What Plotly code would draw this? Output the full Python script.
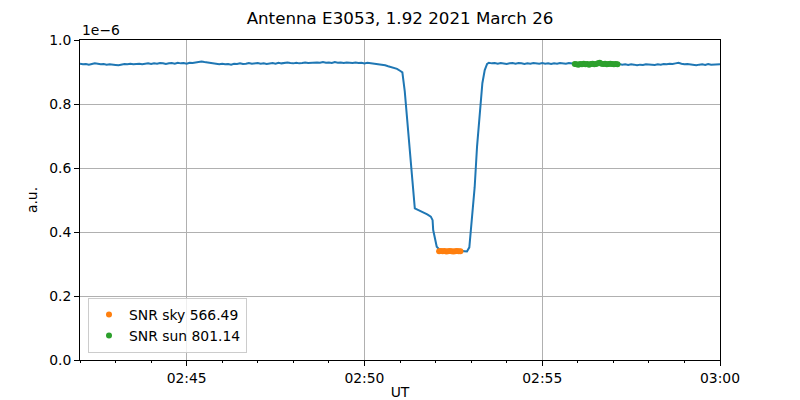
import pandas as pd
import plotly.graph_objects as go

# ---- data (seconds after 02:42:00 UT, values in units of 1e-6) ----
base_time = "2021-03-26 02:42:00"

pre_t = list(range(0, 545, 5)) + [544]
pre_v = [0.926, 0.924, 0.925, 0.923, 0.925, 0.927, 0.926, 0.924, 0.925, 0.923, 0.924, 0.922, 0.922,
         0.921, 0.923, 0.925, 0.924, 0.926, 0.924, 0.925, 0.926, 0.924, 0.926, 0.927, 0.925, 0.927,
         0.926, 0.928, 0.927, 0.925, 0.927, 0.928, 0.926, 0.929, 0.927, 0.928, 0.926, 0.929, 0.928,
         0.930, 0.931, 0.933, 0.931, 0.930, 0.928, 0.926, 0.925, 0.924, 0.926, 0.924, 0.925, 0.923,
         0.926, 0.925, 0.927, 0.925, 0.926, 0.928, 0.926, 0.927, 0.928, 0.926, 0.927, 0.925, 0.927,
         0.928, 0.926, 0.929, 0.927, 0.928, 0.930, 0.928, 0.927, 0.929, 0.927, 0.928, 0.930, 0.928,
         0.929, 0.928, 0.930, 0.929, 0.931, 0.929, 0.930, 0.928, 0.931, 0.929, 0.930, 0.928, 0.930,
         0.929, 0.928, 0.930, 0.928, 0.929, 0.927, 0.929, 0.928, 0.927, 0.926, 0.924, 0.922, 0.921,
         0.918, 0.916, 0.913, 0.910, 0.904, 0.899]

dip_t = [548, 552, 557, 561, 565, 572, 580, 586, 592, 595, 596, 599, 602, 607, 612, 618, 624, 630,
         636, 642, 648, 653, 657, 661, 666, 670, 675, 679, 683, 687]
dip_v = [0.840, 0.760, 0.660, 0.560, 0.474, 0.468, 0.461, 0.455, 0.448, 0.437, 0.406, 0.375, 0.354,
         0.344, 0.341, 0.342, 0.340, 0.341, 0.339, 0.341, 0.340, 0.339, 0.352, 0.437, 0.540, 0.667,
         0.780, 0.865, 0.906, 0.925]

post_t = list(range(690, 1085, 5))
post_v = [0.929, 0.927, 0.928, 0.926, 0.928, 0.927, 0.925, 0.927, 0.928, 0.926, 0.928, 0.927, 0.925,
          0.927, 0.926, 0.928, 0.927, 0.926, 0.928, 0.926, 0.927, 0.925, 0.927, 0.926, 0.928, 0.927,
          0.926, 0.928, 0.926, 0.925, 0.924, 0.925, 0.924, 0.925, 0.926, 0.924, 0.926, 0.927, 0.926,
          0.925, 0.926, 0.924, 0.925, 0.924, 0.925, 0.923, 0.924, 0.922, 0.924, 0.923, 0.921, 0.923,
          0.922, 0.924, 0.923, 0.921, 0.922, 0.924, 0.923, 0.925, 0.924, 0.926, 0.925, 0.927, 0.929,
          0.926, 0.924, 0.925, 0.923, 0.922, 0.921, 0.923, 0.924, 0.922, 0.925, 0.923, 0.924, 0.925,
          0.924]

sky_t = [606, 609, 612, 615, 618, 621, 624, 627, 630, 633, 636, 639, 642]
sky_v = [0.340, 0.341, 0.340, 0.341, 0.339, 0.340, 0.341, 0.340, 0.339, 0.340, 0.341, 0.340, 0.340]

sun_t = [835, 838, 841, 844, 847, 850, 853, 856, 859, 862, 865, 868, 871, 874, 877, 880, 883,
         886, 889, 892, 895, 898, 901, 904, 907]
sun_v = [0.925, 0.924, 0.923, 0.925, 0.924, 0.926, 0.924, 0.925, 0.923, 0.925, 0.926, 0.924, 0.925,
         0.927, 0.929, 0.926, 0.925, 0.926, 0.924, 0.925, 0.926, 0.925, 0.924, 0.925, 0.924]

labels = ["SNR sky 566.49", "SNR sun 801.14"]
title = "Antenna E3053, 1.92 2021 March 26"

line_t = pre_t + dip_t + post_t
line_v = pre_v + dip_v + post_v


def to_dt(ts):
    return pd.Timestamp(base_time) + pd.to_timedelta(ts, unit="s")


FONT = "DejaVu Sans"
TICK = 13.9
fig = go.Figure()
fig.add_trace(go.Scatter(x=to_dt(line_t), y=line_v, mode="lines",
                         line=dict(color="#1f77b4", width=2), showlegend=False))
fig.add_trace(go.Scatter(x=to_dt(sky_t), y=sky_v, mode="markers", name=labels[0],
                         marker=dict(color="#ff7f0e", size=6)))
fig.add_trace(go.Scatter(x=to_dt(sun_t), y=sun_v, mode="markers", name=labels[1],
                         marker=dict(color="#2ca02c", size=6)))

# page body has an 8px margin, so the figure is 792x392 with left/top margins reduced by 8
fig.update_layout(
    width=792, height=392,
    margin=dict(l=72, r=80, t=32, b=40, autoexpand=False),
    paper_bgcolor="white", plot_bgcolor="white",
    font=dict(family=FONT, size=TICK, color="black"),
    title=dict(text=title, x=(400 - 8) / 792, xanchor="center", y=1.0 - 4 / 392,
               yanchor="top", pad=dict(t=0, b=0), font=dict(size=16.7, family=FONT)),
    legend=dict(x=0.0125, y=0.022, xanchor="left", yanchor="bottom",
                bgcolor="rgba(255,255,255,0.8)", bordercolor="#cccccc", borderwidth=1,
                font=dict(size=TICK, family=FONT), itemsizing="trace",
                tracegroupgap=0),
)
fig.update_xaxes(
    type="date", automargin=False,
    range=[to_dt([0])[0], to_dt([1080])[0]],
    tickformat="%H:%M", dtick=300000, tick0="2021-03-26 02:45:00",
    ticks="outside", ticklen=5, tickwidth=1, tickcolor="black",
    showline=True, linecolor="black", linewidth=1, mirror=True,
    showgrid=True, gridcolor="#b0b0b0", gridwidth=1,
    minor=dict(dtick=60000, tick0="2021-03-26 02:42:00", ticks="outside", ticklen=2,
               tickcolor="black", showgrid=False),
    title=dict(text="UT", standoff=7, font=dict(size=TICK)),
    zeroline=False,
)
fig.update_yaxes(
    automargin=False,
    range=[0, 1.0], dtick=0.2, tickformat=".1f",
    ticks="outside", ticklen=5, tickwidth=1, tickcolor="black",
    showline=True, linecolor="black", linewidth=1, mirror=True,
    showgrid=True, gridcolor="#b0b0b0", gridwidth=1,
    title=dict(text="a.u.", standoff=8, font=dict(size=TICK)),
    zeroline=False,
)
fig.add_annotation(text="1e\u22126", xref="paper", yref="paper", x=0, y=1.0,
                   xanchor="left", yanchor="bottom", yshift=0, showarrow=False,
                   font=dict(size=TICK, family=FONT))

fig.write_html("out.html")
